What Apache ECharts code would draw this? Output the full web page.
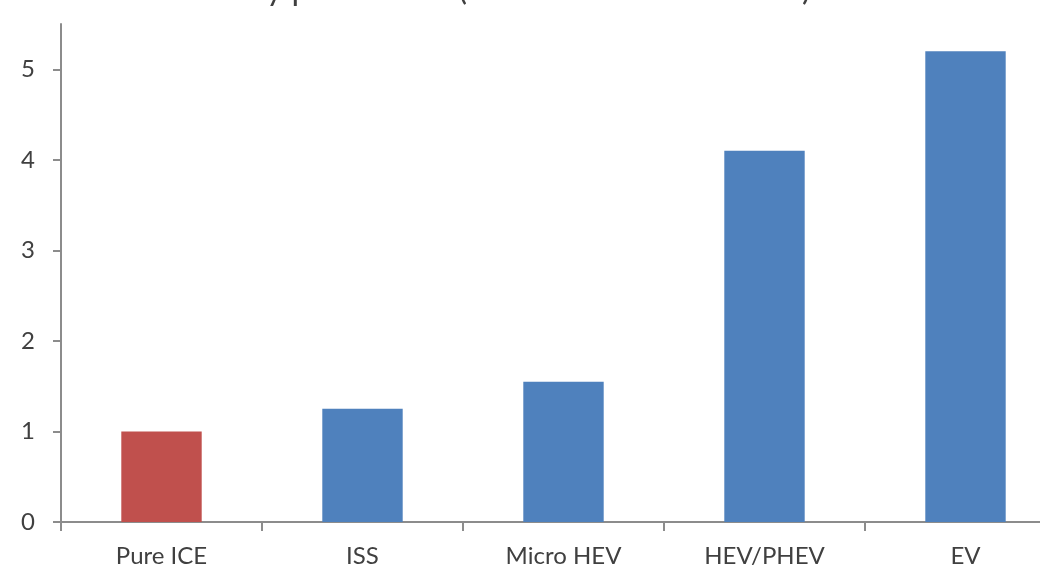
<!DOCTYPE html>
<html>
<head>
<meta charset="utf-8">
<script src="https://cdn.jsdelivr.net/npm/echarts@6/dist/echarts.min.js"></script>
<style>
  html, body { margin: 0; padding: 0; background: #ffffff; }
  #chart { width: 1040px; height: 571px; }
</style>
</head>
<body>
<div id="chart"></div>
<script>
// Relative cost per powertrain type, Pure ICE = 1
const categories = ['Pure ICE', 'ISS', 'Micro HEV', 'HEV/PHEV', 'EV'];
const values = [1.0, 1.25, 1.55, 4.1, 5.2];
const barColors = ['#C0504D', '#4F81BD', '#4F81BD', '#4F81BD', '#4F81BD'];
const yTicks = [0, 1, 2, 3, 4, 5];
const titleText = 'Cost by powertrain (relative to Pure ICE = 1)';

const axisGrey = '#8c8c8c';
const textColor = '#404040';
const fontFamily = 'Lato, "Open Sans", sans-serif';

const chart = echarts.init(document.getElementById('chart'), null, { renderer: 'canvas' });

chart.setOption({
  backgroundColor: '#ffffff',
  animation: false,
  title: {
    text: titleText,
    left: 168,
    top: -32,
    textStyle: { fontFamily: fontFamily, fontSize: 33, fontWeight: 'normal', color: textColor }
  },
  grid: { left: 61, top: 24, bottom: 49, width: 1005, outerBoundsMode: 'none', containLabel: false },
  xAxis: {
    type: 'category',
    data: categories,
    axisLine: { show: true, lineStyle: { color: axisGrey, width: 2 } },
    axisTick: { show: true, length: 9, alignWithLabel: false, lineStyle: { color: axisGrey, width: 2 } },
    axisLabel: { margin: 22, fontFamily: fontFamily, fontSize: 24, color: textColor }
  },
  yAxis: {
    type: 'value',
    min: 0,
    max: 5.5,
    interval: 1,
    axisLine: { show: true, lineStyle: { color: axisGrey, width: 2 } },
    axisTick: { show: true, length: 8, customValues: yTicks, lineStyle: { color: axisGrey, width: 2 } },
    axisLabel: { customValues: yTicks, margin: 26, fontFamily: fontFamily, fontSize: 24, color: textColor },
    splitLine: { show: false }
  },
  series: [{
    type: 'bar',
    barWidth: '40%',
    data: values.map((v, i) => ({ value: v, itemStyle: { color: barColors[i] } }))
  }]
});
</script>
</body>
</html>
